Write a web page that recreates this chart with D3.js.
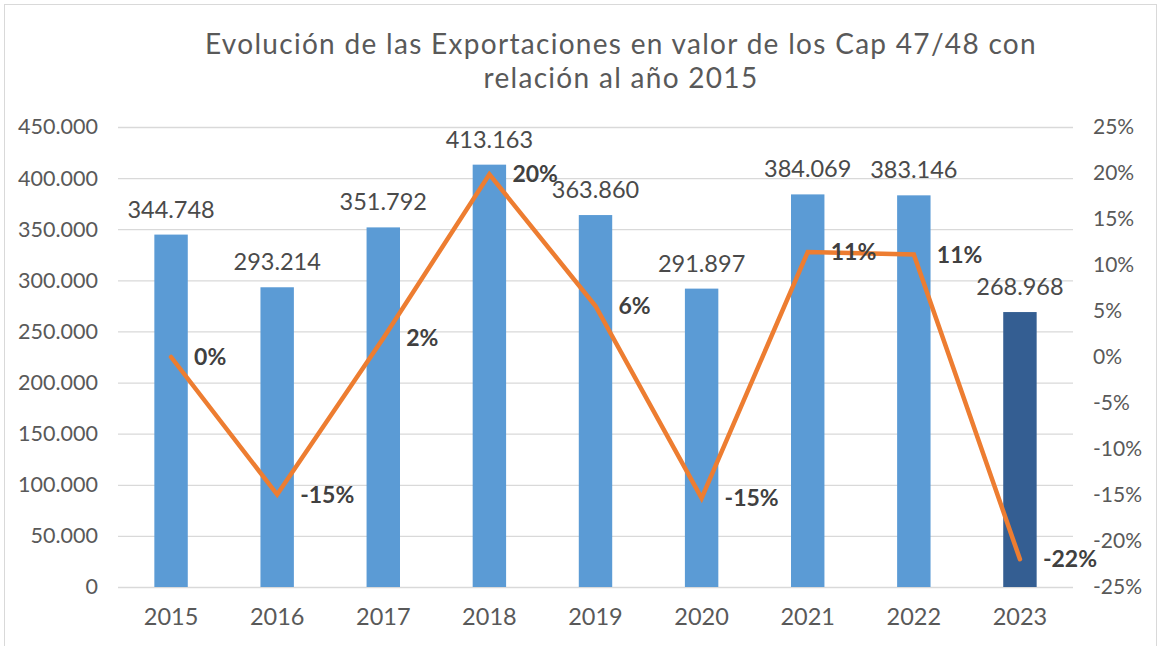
<!DOCTYPE html>
<html>
<head>
<meta charset="utf-8">
<script src="https://cdn.jsdelivr.net/npm/d3@7"></script>
<style>
  html, body { margin: 0; padding: 0; background: #fff; }
  svg { display: block; }
  text { font-family: Lato, "Open Sans", sans-serif; }
</style>
</head>
<body>
<svg id="chart" width="1159" height="646"></svg>
<script>
const years = ["2015", "2016", "2017", "2018", "2019", "2020", "2021", "2022", "2023"];
const exportValues = [344748, 293214, 351792, 413163, 363860, 291897, 384069, 383146, 268968];
const changeVs2015 = [0, -0.1495, 0.0204, 0.1985, 0.0554, -0.1533, 0.1141, 0.1114, -0.2198];
const leftTicks = [0, 50000, 100000, 150000, 200000, 250000, 300000, 350000, 400000, 450000];
const rightTicks = [-0.25, -0.20, -0.15, -0.10, -0.05, 0, 0.05, 0.10, 0.15, 0.20, 0.25];
const titleLines = ["Evolución de las Exportaciones en valor de los Cap 47/48 con", "relación al año 2015"];

const W = 1159, H = 646;
const plot = { left: 118, right: 1073, top: 127, bottom: 587 };
const svg = d3.select("#chart");

const locale = d3.formatLocale({ decimal: ",", thousands: ".", grouping: [3], currency: ["", "€"], minus: "-" });
const fmtNum = locale.format(",");
const fmtPct = locale.format(".0%");

// border
svg.append("rect").attr("x", 4.5).attr("y", 4.5).attr("width", 1152).attr("height", 650)
  .attr("fill", "#fff").attr("stroke", "#D9D9D9").attr("stroke-width", 1);

const x = d3.scaleBand().domain(years).range([plot.left, plot.right]).paddingInner(0.685).paddingOuter(0.3425);
const yL = d3.scaleLinear().domain([0, 450000]).range([plot.bottom, plot.top]);
const yR = d3.scaleLinear().domain([-0.25, 0.25]).range([plot.bottom, plot.top]);

// title
svg.append("g").selectAll("text").data(titleLines).join("text")
  .attr("x", 621).attr("y", (d, i) => 54 + i * 34).attr("text-anchor", "middle")
  .attr("font-size", 28).attr("letter-spacing", 1.3).attr("fill", "#595959").text(d => d);

// gridlines (left axis)
const gAxisL = svg.append("g").attr("transform", `translate(${plot.left},0)`)
  .call(d3.axisLeft(yL).tickValues(leftTicks).tickSize(-(plot.right - plot.left)).tickPadding(20).tickFormat(fmtNum));
gAxisL.select(".domain").remove();
gAxisL.selectAll(".tick line").attr("stroke", "#D9D9D9").attr("stroke-width", 1.3);
gAxisL.selectAll(".tick text").attr("fill", "#595959").attr("font-size", 21.5)
  .attr("font-family", "Lato, sans-serif");

// right axis labels
const gAxisR = svg.append("g").attr("transform", `translate(${plot.right},0)`)
  .call(d3.axisRight(yR).tickValues(rightTicks).tickSize(0).tickPadding(20).tickFormat(fmtPct));
gAxisR.select(".domain").remove();
gAxisR.selectAll(".tick text").attr("fill", "#595959").attr("font-size", 21)
  .attr("font-family", "Lato, sans-serif");

// x axis labels
const gAxisX = svg.append("g").attr("transform", `translate(0,${plot.bottom})`)
  .call(d3.axisBottom(x).tickSize(0).tickPadding(21));
gAxisX.select(".domain").remove();
gAxisX.selectAll(".tick text").attr("fill", "#595959").attr("font-size", 23.5)
  .attr("font-family", "Lato, sans-serif");

// bars
svg.append("g").selectAll("rect").data(years).join("rect")
  .attr("x", d => x(d)).attr("width", x.bandwidth())
  .attr("y", (d, i) => yL(exportValues[i]))
  .attr("height", (d, i) => yL(0) - yL(exportValues[i]))
  .attr("fill", (d, i) => i === years.length - 1 ? "#345E92" : "#5B9BD5");

// bar value labels
svg.append("g").selectAll("text").data(years).join("text")
  .attr("x", d => x(d) + x.bandwidth() / 2)
  .attr("y", (d, i) => yL(exportValues[i]) - 17)
  .attr("text-anchor", "middle").attr("font-size", 23.5).attr("fill", "#4a4a4a")
  .text((d, i) => fmtNum(exportValues[i]));

// line
const line = d3.line().x((d, i) => x(years[i]) + x.bandwidth() / 2).y(d => yR(d));
svg.append("path").datum(changeVs2015).attr("d", line)
  .attr("fill", "none").attr("stroke", "#ED7D31").attr("stroke-width", 4.5)
  .attr("stroke-linejoin", "miter").attr("stroke-linecap", "round");

// pct labels
svg.append("g").selectAll("text").data(changeVs2015).join("text")
  .attr("x", (d, i) => x(years[i]) + x.bandwidth() / 2 + 23)
  .attr("y", d => yR(d))
  .attr("dy", "0.35em")
  .attr("font-size", 23).attr("font-weight", "bold").attr("fill", "#404040")
  .text(d => fmtPct(d));
</script>
</body>
</html>
